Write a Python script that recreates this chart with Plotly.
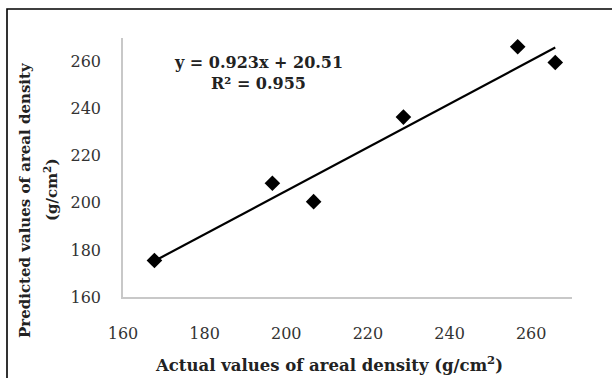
import plotly.graph_objects as go

# Actual vs predicted areal density (g/cm²)
actual = [167.7, 196.6, 206.7, 228.7, 256.7, 265.9]
predicted = [175.5, 208.3, 200.5, 236.4, 266.3, 259.6]

# Linear fit reported on the chart
slope = 0.923
intercept = 20.51
r_squared = 0.955

tick_vals = [160, 180, 200, 220, 240, 260]

x_fit = [min(actual), max(actual)]
y_fit = [slope * v + intercept for v in x_fit]

serif = "DejaVu Serif"
ink = "#222222"

fig = go.Figure()
fig.add_trace(go.Scatter(
    x=x_fit, y=y_fit, mode="lines",
    line=dict(color="black", width=2.2), hoverinfo="skip", showlegend=False,
))
fig.add_trace(go.Scatter(
    x=actual, y=predicted, mode="markers",
    marker=dict(symbol="diamond", size=12, color="black"), showlegend=False,
))

axis_common = dict(
    range=[160, 270], tickvals=tick_vals, showgrid=False, zeroline=False,
    showline=True, linecolor="#c8c8c8", linewidth=1.5, ticks="",
    tickfont=dict(family=serif, size=16, color="#333333"),
)
fig.update_xaxes(**axis_common, ticklabelstandoff=21)
fig.update_yaxes(**axis_common, ticklabelstandoff=17)

# Plot area spans 123..572 px horizontally and 38..297 px vertically
L, R, T, B = 123, 572, 38, 297
W, H = R - L, B - T


def px(x):
    return (x - L) / W


def py(y):
    return (B - y) / H


fig.update_layout(
    width=612, height=378,
    margin=dict(l=L, r=612 - R, t=T, b=378 - B),
    paper_bgcolor="white", plot_bgcolor="white",
    font=dict(family=serif, color=ink),
    shapes=[
        dict(type="rect", xref="paper", yref="paper",
             x0=px(7), x1=px(640), y0=py(400), y1=py(9),
             line=dict(color="black", width=1.6), fillcolor="rgba(0,0,0,0)",
             layer="below"),
    ],
    annotations=[
        dict(text=f"<b>y = {slope}x + {intercept}</b>", xref="paper", yref="paper",
             x=px(258), y=py(62), showarrow=False, xanchor="center", yanchor="middle",
             font=dict(family=serif, size=16, color=ink)),
        dict(text=f"<b>R² = {r_squared}</b>", xref="paper", yref="paper",
             x=px(258), y=py(83), showarrow=False, xanchor="center", yanchor="middle",
             font=dict(family=serif, size=16, color=ink)),
        dict(text="<b>Actual values of areal density (g/cm<sup>2</sup>)</b>",
             xref="paper", yref="paper", x=px(329), y=py(364), showarrow=False,
             xanchor="center", yanchor="middle",
             font=dict(family=serif, size=16.5, color=ink)),
        dict(text="<b>Predicted values of areal density</b>",
             xref="paper", yref="paper", x=px(25), y=py(200), showarrow=False,
             xanchor="center", yanchor="middle", textangle=-90,
             font=dict(family=serif, size=15, color=ink)),
        dict(text="<b>(g/cm<sup>2</sup>)</b>",
             xref="paper", yref="paper", x=px(51), y=py(190), showarrow=False,
             xanchor="center", yanchor="middle", textangle=-90,
             font=dict(family=serif, size=15, color=ink)),
    ],
)

fig.write_html("out.html")
